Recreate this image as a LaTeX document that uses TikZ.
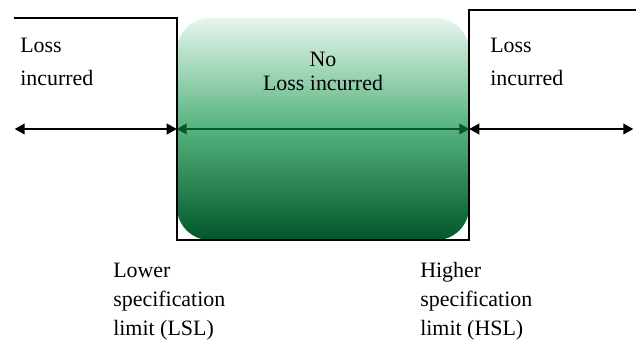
\documentclass[tikz,border=0pt]{standalone}
\usepackage{fontspec}
\setmainfont{Liberation Serif}
\usetikzlibrary{positioning, arrows.meta}
\definecolor{ctop}{RGB}{230,246,237}
\definecolor{cmid}{RGB}{84,178,124}
\definecolor{cbot}{RGB}{2,87,42}
\definecolor{cflecha}{RGB}{10,85,45}

\begin{document}
\begin{tikzpicture}[font=\fontsize{15.6}{18.3}\selectfont,
    tip/.style={{Triangle[length=0.25cm, width=0.27cm]}-{Triangle[length=0.25cm, width=0.27cm]}},
    lbl/.style={align=left, inner sep=0pt, anchor=base west}]

  \useasboundingbox (0,0) rectangle (15.9,-8.6);

  % zona sin perdida
  \node[minimum width=7.3cm, minimum height=5.55cm, inner sep=0pt,
        rounded corners=0.82cm, top color=ctop, bottom color=cbot, middle color=cmid]
        (zona) at (8.075,-3.225) {};

  % limites
  \draw[line width=0.9pt] (0.35,-0.45) -- (4.425,-0.45) -- (4.425,-6.0) -- (11.725,-6.0)
        -- (11.725,-0.25) -- (15.9,-0.25);

  \coordinate[left=4.05cm of zona.west] (izq);
  \coordinate[right=4.1cm of zona.east] (der);
  \draw[tip, line width=1.1pt] (izq) -- (zona.west);
  \draw[tip, line width=1.1pt] (zona.east) -- (der);
  \draw[tip, cflecha, line width=0.8pt] (zona.west) -- (zona.east);

  % textos (base = ultima linea)
  \node[lbl] (perdI) at (0.5,-2.125) {Loss\\[4.5pt]incurred};
  \node[lbl] (perdD) at (12.25,-2.125) {Loss\\[4.5pt]incurred};
  \node[align=center, inner sep=0pt, anchor=base] (sinp) at (8.075,-2.27) {No\\[-1pt]Loss incurred};
  \node[lbl] (lsl) at (2.825,-8.375) {Lower\\[2pt]specification\\[2pt]limit (LSL)};
  \node[lbl] (hsl) at (10.5,-8.375) {Higher\\[2pt]specification\\[2pt]limit (HSL)};
\end{tikzpicture}
\end{document}
